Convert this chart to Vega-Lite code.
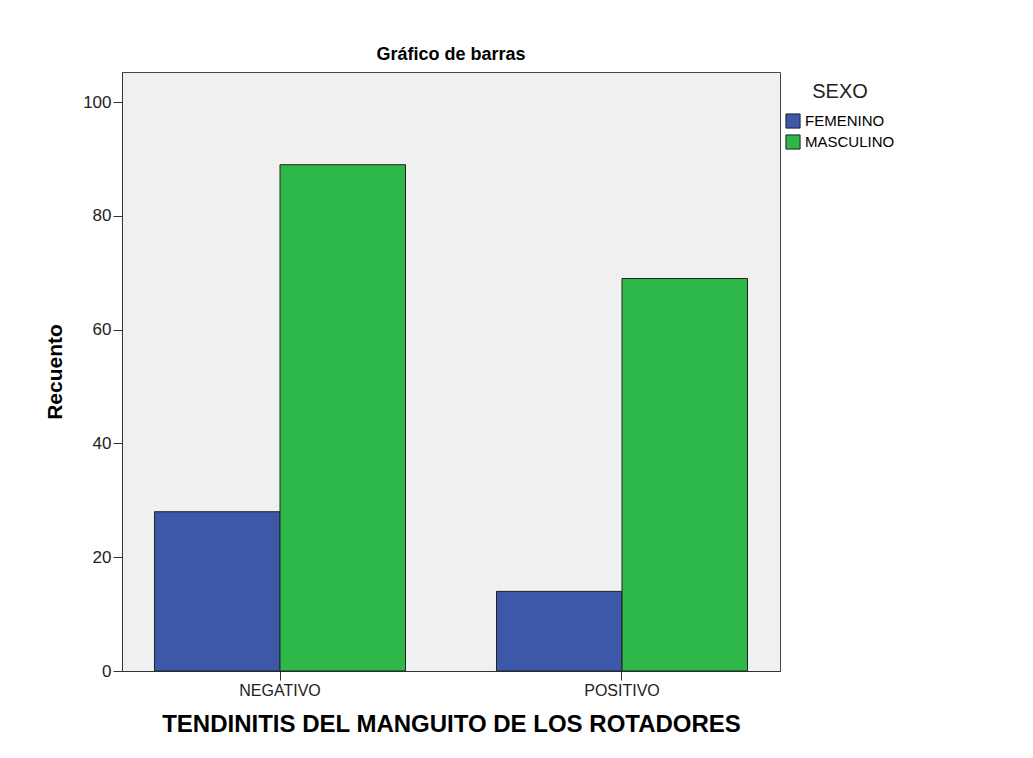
{
  "$schema": "https://vega.github.io/schema/vega-lite/v6.json",
  "autosize": "none",
  "padding": {"left": 122, "top": 72, "right": 253, "bottom": 87},
  "width": 658,
  "height": 599,
  "background": "white",
  "title": {
    "text": "Gráfico de barras",
    "font": "Liberation Sans",
    "fontSize": 18,
    "fontWeight": "bold",
    "color": "#000000",
    "anchor": "middle",
    "offset": 8
  },
  "data": {
    "values": [
      {"tendinitis": "NEGATIVO", "sexo": "FEMENINO", "recuento": 28},
      {"tendinitis": "NEGATIVO", "sexo": "MASCULINO", "recuento": 89},
      {"tendinitis": "POSITIVO", "sexo": "FEMENINO", "recuento": 14},
      {"tendinitis": "POSITIVO", "sexo": "MASCULINO", "recuento": 69}
    ]
  },
  "mark": {"type": "bar", "stroke": "#222222", "strokeWidth": 1},
  "encoding": {
    "x": {
      "field": "tendinitis",
      "type": "nominal",
      "scale": {"paddingInner": 0.266, "paddingOuter": 0.095},
      "axis": {
        "title": "TENDINITIS DEL MANGUITO DE LOS ROTADORES",
        "titleFont": "Liberation Sans",
        "titleFontSize": 24,
        "titleFontWeight": "bold",
        "titleColor": "#000000",
        "titlePadding": 14,
        "labelFont": "Liberation Sans",
        "labelFontSize": 16,
        "labelColor": "#222222",
        "labelAngle": 0,
        "labelPadding": 2,
        "tickSize": 9,
        "tickColor": "#333333",
        "domainColor": "#333333",
        "bandPosition": 0.5
      }
    },
    "xOffset": {"field": "sexo", "type": "nominal", "scale": {"paddingInner": 0, "paddingOuter": 0}},
    "y": {
      "field": "recuento",
      "type": "quantitative",
      "scale": {"domain": [0, 105.3], "nice": false},
      "axis": {
        "values": [0, 20, 40, 60, 80, 100],
        "title": "Recuento",
        "titleFont": "Liberation Sans",
        "titleFontSize": 21,
        "titleFontWeight": "bold",
        "titleColor": "#000000",
        "titlePadding": 17,
        "labelFont": "Liberation Sans",
        "labelFontSize": 17,
        "labelColor": "#222222",
        "labelPadding": 2,
        "tickSize": 9,
        "tickColor": "#333333",
        "domainColor": "#333333",
        "grid": false
      }
    },
    "color": {
      "field": "sexo",
      "type": "nominal",
      "scale": {"domain": ["FEMENINO", "MASCULINO"], "range": ["#3d57a9", "#2eb84a"]},
      "legend": {
        "title": "SEXO",
        "orient": "right",
        "offset": -5,
        "padding": 10,
        "titleFont": "Liberation Sans",
        "titleFontSize": 20,
        "titleFontWeight": "normal",
        "titleColor": "#222222",
        "titleAnchor": "middle",
        "titlePadding": 11,
        "labelFont": "Liberation Sans",
        "labelFontSize": 15,
        "labelColor": "#000000",
        "labelOffset": 4,
        "symbolType": "square",
        "symbolSize": 200,
        "symbolStrokeColor": "#222222",
        "symbolStrokeWidth": 1,
        "rowPadding": 1
      }
    }
  },
  "config": {
    "view": {"fill": "#f0f0f0", "stroke": "#444444", "strokeWidth": 1}
  }
}
